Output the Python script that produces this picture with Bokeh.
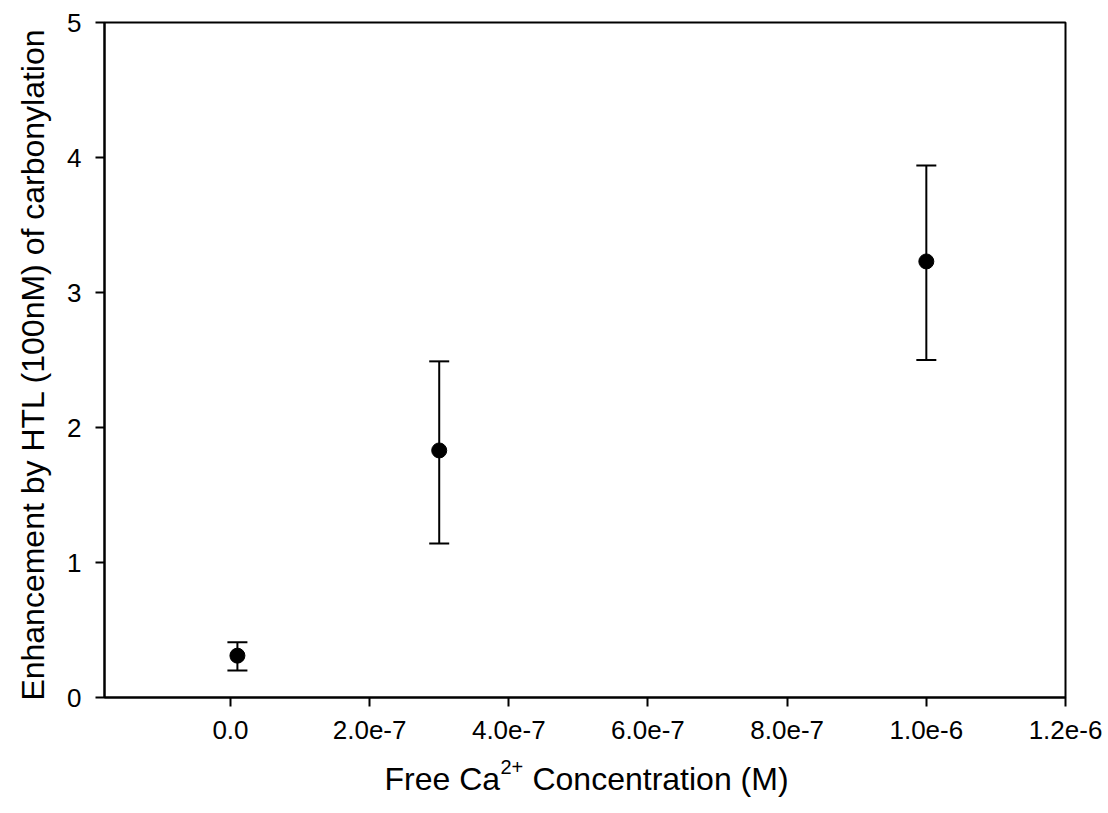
from bokeh.embed import file_html
from bokeh.models import (ColumnDataSource, FixedTicker, LinearAxis, Range1d, TeeHead,
                          Whisker)
from bokeh.plotting import figure
from bokeh.resources import INLINE

# Free Ca2+ concentration (M) and HTL enhancement of carbonylation (mean with error range)
conc = [1e-8, 3e-7, 1e-6]
enhancement = [0.31, 1.83, 3.23]
err_low = [0.20, 1.14, 2.50]
err_high = [0.41, 2.49, 3.94]

x_ticks = [0.0, 2e-7, 4e-7, 6e-7, 8e-7, 1e-6, 1.2e-6]
x_tick_labels = ["0.0", "2.0e-7", "4.0e-7", "6.0e-7", "8.0e-7", "1.0e-6", "1.2e-6"]
y_ticks = [0, 1, 2, 3, 4, 5]

FONT = "Liberation Sans"
X_START, X_END = -1.81e-7, 1.2e-6
FRAME_LEFT, FRAME_RIGHT = 104, 1065

p = figure(
    width=1108,
    height=813,
    output_backend="svg",
    toolbar_location=None,
    x_range=Range1d(X_START, X_END),
    y_range=Range1d(0, 5),
    min_border_left=FRAME_LEFT,
    min_border_right=1108 - FRAME_RIGHT,
    min_border_top=22,
    min_border_bottom=116,
)
p.background_fill_color = "white"
p.border_fill_color = "white"
p.outline_line_color = "black"
p.outline_line_width = 2
p.grid.visible = False

for ax in (p.xaxis[0], p.yaxis[0]):
    ax.axis_line_width = 2
    ax.axis_line_color = "black"
    ax.major_tick_line_width = 2
    ax.major_tick_line_color = "black"
    ax.major_tick_out = 9
    ax.major_tick_in = 0
    ax.minor_tick_line_color = None
    ax.major_label_text_font = FONT
    ax.major_label_text_font_size = "26px"
    ax.major_label_text_color = "black"

p.xaxis[0].ticker = FixedTicker(ticks=x_ticks)
p.xaxis[0].major_label_overrides = {t: lab for t, lab in zip(x_ticks, x_tick_labels)}
p.xaxis[0].major_label_standoff = 14
p.yaxis[0].ticker = FixedTicker(ticks=y_ticks)
p.yaxis[0].major_label_standoff = 14

yax = p.yaxis[0]
yax.axis_label = "Enhancement by HTL  (100nM) of carbonylation"
yax.axis_label_text_font = FONT
yax.axis_label_text_font_size = "32px"
yax.axis_label_text_font_style = "normal"
yax.axis_label_text_color = "black"
yax.axis_label_standoff = 13

src = ColumnDataSource(dict(x=conc, y=enhancement, lo=err_low, hi=err_high))

whisk = Whisker(
    source=src, base="x", lower="lo", upper="hi", dimension="height",
    line_color="black", line_width=2,
    lower_head=TeeHead(size=20, line_color="black", line_width=2),
    upper_head=TeeHead(size=20, line_color="black", line_width=2),
)
p.add_layout(whisk)
p.scatter("x", "y", source=src, size=15, fill_color="black", line_color="black")


# X axis title with a raised "2+": two text-only axes stacked under the tick axis,
# the first holding the superscript, the second the main words.
def px_to_x(px):
    return X_START + (px - FRAME_LEFT) * (X_END - X_START) / (FRAME_RIGHT - FRAME_LEFT)


def text_axis(positions, texts, size, standoff):
    ax = LinearAxis(
        ticker=FixedTicker(ticks=positions),
        major_label_overrides=dict(zip(positions, texts)),
        axis_line_color=None,
        major_tick_line_color=None,
        minor_tick_line_color=None,
        major_tick_out=0,
        major_tick_in=0,
        major_label_standoff=standoff,
        major_label_text_font=FONT,
        major_label_text_font_size=size,
        major_label_text_color="black",
    )
    p.add_layout(ax, "below")
    return ax


sup_pos = [px_to_x(511.4)]
word_pos = [px_to_x(441.8), px_to_x(660.0)]
text_axis(sup_pos, ["2+"], "20px", 18)
text_axis(word_pos, ["Free Ca", "Concentration (M)"], "32px", -16)

open("out.html", "w").write(file_html(p, INLINE))
